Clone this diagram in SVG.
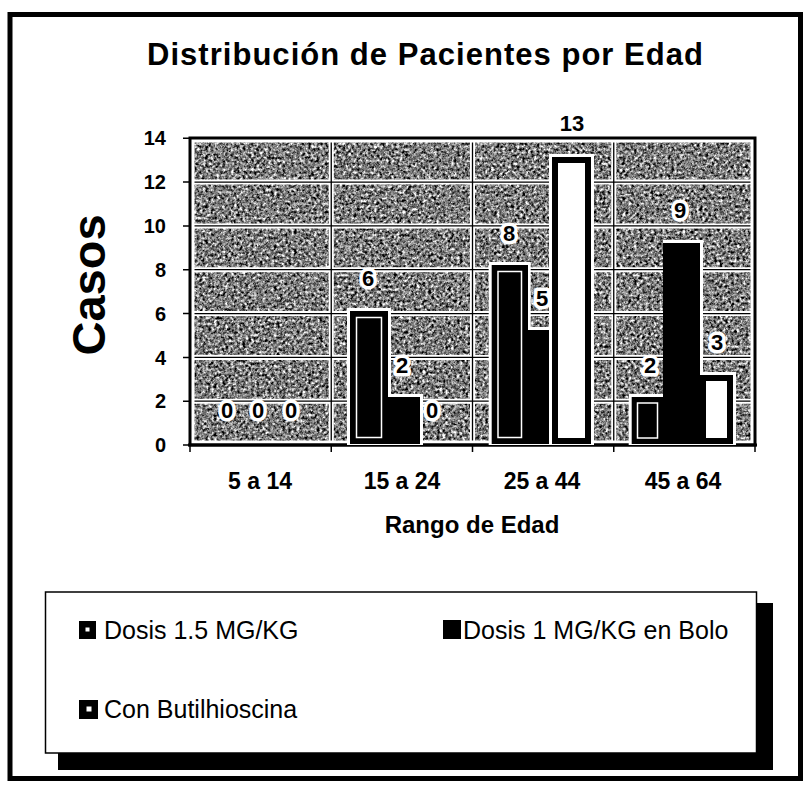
<svg xmlns="http://www.w3.org/2000/svg" width="807" height="787" viewBox="0 0 807 787">
<defs>
<style>
text{font-family:"Liberation Sans",Arial,Helvetica,sans-serif;fill:#000}
.b{font-weight:bold}
.tick{font-size:20px;font-weight:bold;text-anchor:end}
.cat{font-size:23px;font-weight:bold;text-anchor:middle}
.val{font-size:22px;font-weight:bold;text-anchor:middle;stroke:#fff;stroke-width:7;stroke-linejoin:round;paint-order:stroke}
.leg{font-size:25px}
.grid-w{stroke:#fff;stroke-width:5;fill:none}
.grid-k{stroke:#000;stroke-width:1.3;fill:none}
.halo{fill:#fff}
.s1{fill:#000}
.s1in{fill:none;stroke:#fff;stroke-width:1.5}
.s2{fill:#000}
.s3{fill:#fff;stroke:#000;stroke-width:6}
.tk{stroke:#000;stroke-width:1.5}
</style>
<filter id="tex" x="0" y="0" width="1" height="1" color-interpolation-filters="sRGB">
<feTurbulence type="fractalNoise" baseFrequency="0.35" numOctaves="4" seed="7"/>
<feColorMatrix type="matrix" values="0.33 0.33 0.33 0 0 0.33 0.33 0.33 0 0 0.33 0.33 0.33 0 0 0 0 0 0 1"/>
<feComponentTransfer>
<feFuncR type="linear" slope="3.2" intercept="-1.1"/>
<feFuncG type="linear" slope="3.2" intercept="-1.1"/>
<feFuncB type="linear" slope="3.2" intercept="-1.1"/>
</feComponentTransfer>
</filter>
</defs>

<rect x="0" y="0" width="807" height="787" fill="#fff"/>

<g id="frame">
<rect x="10" y="14.5" width="790.5" height="764" fill="none" stroke="#000" stroke-width="5"/>
</g>

<g id="title">
<text class="b" x="147" y="65" font-size="31" textLength="556" lengthAdjust="spacing">Distribución de Pacientes por Edad</text>
</g>

<g id="y-title">
<text class="b" font-size="47" text-anchor="middle" transform="translate(105,285) rotate(-90)">Casos</text>
</g>

<g id="plot">
<rect x="190" y="138" width="565" height="307" fill="#808080" filter="url(#tex)"/>
<g id="gridlines">
<path class="grid-w" d="M190 182.1H755M190 225.9H755M190 269.7H755M190 313.6H755M190 357.4H755M190 401.2H755M331.25 138V445M472.5 138V445M613.75 138V445"/>
<path class="grid-k" d="M190 182.1H755M190 225.9H755M190 269.7H755M190 313.6H755M190 357.4H755M190 401.2H755M331.25 138V445M472.5 138V445M613.75 138V445"/>
</g>
<rect x="192.5" y="140.5" width="560" height="302" fill="none" stroke="#fff" stroke-width="4"/>
<rect x="190" y="138" width="565" height="307" fill="none" stroke="#000" stroke-width="3"/>
</g>

<g id="axes">
<path class="tk" d="M183 138.3H190M183 182.1H190M183 225.9H190M183 269.7H190M183 313.6H190M183 357.4H190M183 401.2H190M183 445H190"/>
<path class="tk" d="M190 445V452M331.25 445V452M472.5 445V452M613.75 445V452M755 445V452"/>
<line x1="188" y1="445" x2="757" y2="445" stroke="#000" stroke-width="3"/>
<text class="tick" x="166" y="145">14</text>
<text class="tick" x="166" y="189">12</text>
<text class="tick" x="166" y="233">10</text>
<text class="tick" x="166" y="277">8</text>
<text class="tick" x="166" y="320.5">6</text>
<text class="tick" x="166" y="364.5">4</text>
<text class="tick" x="166" y="408">2</text>
<text class="tick" x="166" y="452">0</text>
<text class="cat" x="260" y="489">5 a 14</text>
<text class="cat" x="402" y="489">15 a 24</text>
<text class="cat" x="542" y="489">25 a 44</text>
<text class="cat" x="683" y="489">45 a 64</text>
<text class="b" x="472" y="533" font-size="24" text-anchor="middle">Rango de Edad</text>
</g>

<g id="series-dosis-15">
<rect class="halo" x="347" y="308" width="44" height="137"/>
<rect class="s1" x="350" y="311" width="38" height="133"/>
<rect class="s1in" x="356.5" y="317.5" width="25" height="120"/>
<rect class="halo" x="488.7" y="262" width="42" height="183"/>
<rect class="s1" x="491.7" y="265" width="36.3" height="179"/>
<rect class="s1in" x="498" y="271.5" width="23.5" height="166"/>
<rect class="halo" x="628.7" y="394" width="37" height="51"/>
<rect class="s1" x="631.7" y="397" width="31.3" height="47"/>
<rect class="s1in" x="637.5" y="403" width="20" height="35"/>
</g>

<g id="series-dosis-1">
<rect class="halo" x="388" y="394" width="35" height="51"/>
<rect class="s2" x="388" y="397" width="32" height="47"/>
<rect class="halo" x="528" y="327" width="27" height="118"/>
<rect class="s2" x="528" y="330" width="24" height="114"/>
<rect class="halo" x="663" y="240" width="40" height="205"/>
<rect class="s2" x="663" y="243" width="37" height="201"/>
</g>

<g id="series-butilhioscina">
<rect class="halo" x="549" y="154" width="45" height="291"/>
<rect class="s3" x="555" y="160" width="33" height="281"/>
<rect class="halo" x="700" y="372" width="36" height="73"/>
<rect class="s3" x="703" y="378" width="27" height="63"/>
</g>

<g id="data-labels">
<text class="val" x="227" y="418">0</text>
<text class="val" x="258" y="418">0</text>
<text class="val" x="291" y="418">0</text>
<text class="val" x="368" y="286">6</text>
<text class="val" x="402" y="373">2</text>
<text class="val" x="432" y="418">0</text>
<text class="val" x="509" y="241">8</text>
<text class="val" x="542" y="306">5</text>
<text class="val" x="572" y="131">13</text>
<text class="val" x="650" y="373">2</text>
<text class="val" x="680" y="218">9</text>
<text class="val" x="717" y="349.5">3</text>
</g>

<g id="legend">
<rect x="58" y="603" width="715" height="167" fill="#000"/>
<rect x="45.5" y="592" width="711" height="161" fill="#fff" stroke="#000" stroke-width="1.5"/>
<g id="legend-dosis-15">
<rect x="79" y="621" width="17" height="18" fill="#000"/>
<rect x="85.5" y="627.5" width="4" height="4" fill="#fff"/>
<text class="leg" x="104" y="639">Dosis 1.5 MG/KG</text>
</g>
<g id="legend-dosis-1">
<rect x="443" y="620" width="18" height="19" fill="#000"/>
<text class="leg" x="463" y="639">Dosis 1 MG/KG en Bolo</text>
</g>
<g id="legend-butilhioscina">
<rect x="79" y="700" width="19" height="19" fill="#000"/>
<rect x="86.5" y="706.5" width="5" height="5" fill="#fff"/>
<text class="leg" x="104" y="718">Con Butilhioscina</text>
</g>
</g>
</svg>
